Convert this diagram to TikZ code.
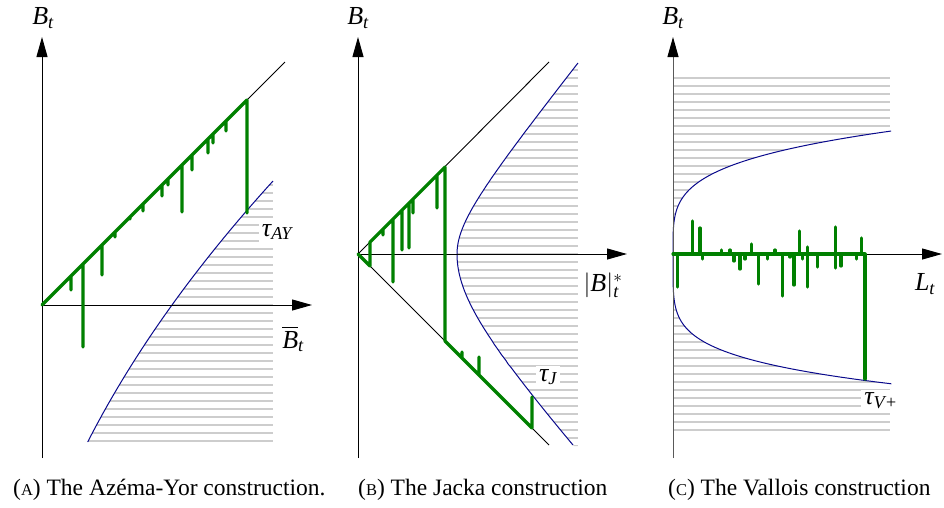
\documentclass[tikz,border=0pt]{standalone}
\usepackage{amsmath}
\usepackage{fontspec}
\setmainfont{Liberation Serif}
\usetikzlibrary{arrows.meta}
\definecolor{pathgreen}{RGB}{0,128,0}
\definecolor{curveblue}{RGB}{10,10,140}
\definecolor{hatchgray}{RGB}{205,205,205}
\tikzset{
 axisline/.style={line width=1pt, -{Triangle[length=20pt,width=11pt,color=black]}},
 guide/.style={line width=0.9pt, black},
 bound/.style={line width=1pt, curveblue},
 hatch/.style={line width=1.6pt, hatchgray},
 bm/.style={line width=3.2pt, pathgreen, line join=round, line cap=round},
 lbl/.style={font=\fontsize{26}{30}\selectfont, inner sep=1pt},
 tlbl/.style={lbl, fill=white, inner sep=3pt},
 captext/.style={font=\fontsize{23.5}{28}\selectfont, anchor=base west, inner sep=0pt}
}
\newcommand\smc[1]{{\fontsize{16.5}{16.5}\selectfont #1}}
\begin{document}
\begin{tikzpicture}[x=1pt,y=-1pt]
\useasboundingbox (0,0) rectangle (944,507);

% ---------- Panel A ----------
\begin{scope}
\clip plot[variable=\t, domain=-150:130, samples=50] ({172+\t*(0.72+0.00077*\t)},{305-\t}) -- (400,175) -- (400,455) -- cycle;
\foreach \k in {-15,...,17} \draw[hatch] (40,305+8*\k) -- (273,305+8*\k);
\end{scope}
\draw[bound] plot[variable=\t, domain=-137:124, samples=60] ({172+\t*(0.72+0.00077*\t)},{305-\t});
\draw[guide] (42,305) -- (285,62);
\draw[axisline] (42,458) -- (42,37);
\draw[axisline] (42,305) -- (312,305);
\draw[bm] (42,305)
  \foreach \x/\y in {71/290,83/347,102/275,115/237,130/219,143/211,162/196,168/185,182/212,192/170,208/153,213/143,226/131}
  { -- (\x,{347-\x}) -- (\x,\y) -- (\x,{347-\x}) } -- (247,100) -- (247,213);
\node[lbl] (bA) at (43,18) {$\textit{B}_{\textit{t}}$};
\node[tlbl] (tA) at (277,232) {$\textit{τ}_{\textit{AY}}$};
\node[lbl] (xA) at (293,339) {$\overline{\textit{B}}_{\textit{t}}$};

% ---------- Panel B ----------
\begin{scope}
\clip (457,254) -- plot[variable=\t, domain=0:192, samples=60] ({457+veclen(36,0.8*\t)-36},{254-\t}) -- (600,62) -- (600,254) -- cycle;
\foreach \k in {-24,...,0} \draw[hatch] (440,254+8*\k) -- (578,254+8*\k);
\end{scope}
\begin{scope}
\clip (457,254) -- plot[variable=\t, domain=0:192, samples=60] ({457+veclen(69.4,0.9*\t)-69.4},{254+\t}) -- (600,446) -- (600,254) -- cycle;
\foreach \k in {0,...,24} \draw[hatch] (440,254+8*\k) -- (578,254+8*\k);
\end{scope}
\draw[bound] plot[variable=\t, domain=0:191, samples=60] ({457+veclen(36,0.8*\t)-36},{254-\t});
\draw[bound] plot[variable=\t, domain=0:191, samples=60] ({457+veclen(69.4,0.9*\t)-69.4},{254+\t});
\draw[guide] (358,254) -- (549,62);
\draw[guide] (358,254) -- (549,445);
\draw[axisline] (358,458) -- (358,37);
\draw[axisline] (358,254) -- (627,254);
\draw[bm] (358,254) -- (370,266) -- (370,242)
  \foreach \x/\y in {383/235,393/282,402/250,409/248,413/213,437/208}
  { -- (\x,{612-\x}) -- (\x,\y) -- (\x,{612-\x}) } -- (445,167) -- (445,341)
  \foreach \x/\y in {462/352,479/357}
  { -- (\x,{\x-104}) -- (\x,\y) -- (\x,{\x-104}) } -- (532,428) -- (532,397);
\node[lbl] (bB) at (358,18) {$\textit{B}_{\textit{t}}$};
\node[tlbl] (tB) at (548,377) {$\textit{τ}_{\textit{J}}$};
\node[lbl] (xB) at (603,285) {$|\textit{B}|^{*}_{\textit{t}}$};

% ---------- Panel C ----------
\begin{scope}
\clip (673,254) -- plot[variable=\s, domain=0:3.843, samples=80] ({673+\s*\s*\s*\s},{254-32*\s}) -- (900,131) -- (900,70) -- (673,70) -- cycle;
\foreach \k in {1,...,22} \draw[hatch] (673,254-8*\k) -- (890,254-8*\k);
\end{scope}
\begin{scope}
\clip (673,254) -- plot[variable=\s, domain=0:2.9375, samples=80] ({673+\s*\s*\s*\s*\s},{254+44.2*\s}) -- (900,384) -- (900,440) -- (673,440) -- cycle;
\foreach \k in {1,...,22} \draw[hatch] (673,254+8*\k) -- (890,254+8*\k);
\end{scope}
\draw[bound] plot[variable=\s, domain=0:3.843, samples=80] ({673+\s*\s*\s*\s},{254-32*\s});
\draw[bound] plot[variable=\s, domain=0:2.9375, samples=80] ({673+\s*\s*\s*\s*\s},{254+44.2*\s});
\draw[axisline, black!65] (673,458) -- (673,37);
\draw[axisline] (673,254) -- (942,254);
\draw[bm] (673,254)
  \foreach \x/\y in {677.7/287,692.3/221,700/228,702.7/259,721.7/250,730/250,734/261,740/269,745/259,751.7/244,758.3/284,767.3/259,775/250,782.7/296,790/257,794/285,799.3/231,802.7/259,807.3/247,807.3/287,817.3/267,835.7/227,835.7/268,841/266,856.7/259,861.7/238}
  { -- (\x,254) -- (\x,\y) -- (\x,254) } -- (865,254) -- (865,379);
\node[lbl] (bC) at (673,18) {$\textit{B}_{\textit{t}}$};
\node[tlbl] (tC) at (881,401) {$\textit{τ}_{\textit{V+}}$};
\node[lbl] (xC) at (925,284) {$\textit{L}_{\textit{t}}$};

% ---------- Captions ----------
\node[captext] (cA) at (13,495) {(\smc{A}) The Azéma-Yor construction.};
\node[captext] (cB) at (358,495) {(\smc{B}) The Jacka construction};
\node[captext] (cC) at (668,495) {(\smc{C}) The Vallois construction};
\end{tikzpicture}
\end{document}
